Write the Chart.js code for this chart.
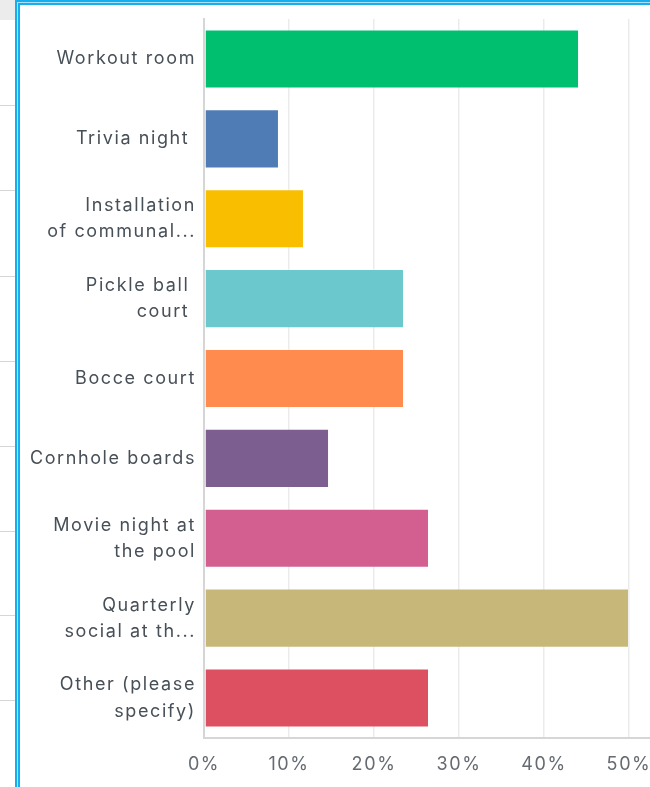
<!DOCTYPE html>
<html>
<head>
<meta charset="utf-8">
<script src="https://cdn.jsdelivr.net/npm/chart.js@4.4.1/dist/chart.umd.min.js"></script>
<style>
  html, body { margin: 0; padding: 0; width: 650px; height: 787px; overflow: hidden; background: #fff; }
  .side { position: absolute; left: 0; top: 0; width: 15px; height: 787px; background: #fff; }
  .side .head { position: absolute; left: 0; top: 0; width: 15px; height: 20px; background: #ececec; }
  .side .rule { position: absolute; left: 0; width: 15px; height: 1px; background: #d6d6d6; }
  .frame { position: absolute; left: 15px; top: 0; width: 700px; height: 800px;
           border-left: 2px solid #16aeed; border-top: 2px solid #16aeed; background: #a8e1f9; box-sizing: border-box; }
  .frame .inner { position: absolute; left: 1px; top: 1px; right: 0; bottom: 0;
           border-left: 2px solid #16aeed; border-top: 2px solid #16aeed; background: #fff; }
  #wrap { position: absolute; left: 0; top: 0; width: 1054px; height: 787px; }
</style>
</head>
<body>
<div class="side">
  <div class="head"></div>
  <div class="rule" style="top:105px"></div>
  <div class="rule" style="top:190px"></div>
  <div class="rule" style="top:276px"></div>
  <div class="rule" style="top:361px"></div>
  <div class="rule" style="top:446px"></div>
  <div class="rule" style="top:531px"></div>
  <div class="rule" style="top:615px"></div>
  <div class="rule" style="top:700px"></div>
</div>
<div class="frame"><div class="inner"></div></div>
<div id="wrap"><canvas id="chart" width="1054" height="787"></canvas></div>
<script>
// Survey answers (share of respondents, %)
const categories = [
  'Workout room',
  'Trivia night ',
  ['Installation', 'of communal...'],
  ['Pickle ball ', 'court '],
  'Bocce court',
  'Cornhole boards',
  ['Movie night at', 'the pool'],
  ['Quarterly', 'social at th...'],
  ['Other (please', 'specify)']
];
const percentages = [44.12, 8.82, 11.76, 23.53, 23.53, 14.71, 26.47, 50.00, 26.47];
const barColors = ['#00bf6f', '#507cb6', '#f9be00', '#6bc8cd', '#ff8b4f', '#7d5e90', '#d25f90', '#c7b879', '#dc5061'];
const tickValues = [0, 10, 20, 30, 40, 50, 60, 70, 80, 90, 100];

// wider tracking for all canvas text
const spacing = {
  id: 'spacing',
  beforeUpdate(c) { c.ctx.letterSpacing = '1.6px'; },
  beforeDraw(c) { c.ctx.letterSpacing = '1.6px'; }
};

const chart = new Chart(document.getElementById('chart'), {
  type: 'bar',
  data: {
    labels: categories,
    datasets: [{
      data: percentages,
      backgroundColor: barColors,
      borderColor: 'rgba(255,255,255,0.25)',
      borderWidth: 1,
      borderSkipped: false,
      barPercentage: 0.74,
      categoryPercentage: 1
    }]
  },
  plugins: [spacing],
  options: {
    indexAxis: 'y',
    responsive: false,
    animation: false,
    layout: { padding: { top: 19, left: 0, right: 0, bottom: 0 } },
    plugins: { legend: { display: false }, tooltip: { enabled: false } },
    scales: {
      x: {
        min: 0,
        max: 100,
        afterBuildTicks(scale) { scale.ticks = tickValues.map(v => ({ value: v })); },
        afterFit(scale) { scale.height = 49; scale.paddingLeft = 0; scale.paddingRight = 0; },
        grid: { color: '#ebebeb', lineWidth: 1.5, drawTicks: false },
        border: { display: true, color: '#d6d6d6', width: 2 },
        ticks: {
          padding: 16,
          color: '#656b71',
          font: { family: 'Inter', size: 18 },
          callback: v => v + '%'
        }
      },
      y: {
        afterFit(scale) { scale.width = 204; scale.paddingTop = 0; scale.paddingBottom = 0; },
        grid: { display: false, drawTicks: false },
        border: { display: true, color: '#d6d6d6', width: 2 },
        ticks: {
          padding: 8,
          color: '#474f57',
          font: { family: 'Inter', size: 18, lineHeight: 1.45 }
        }
      }
    }
  }
});
</script>
</body>
</html>
